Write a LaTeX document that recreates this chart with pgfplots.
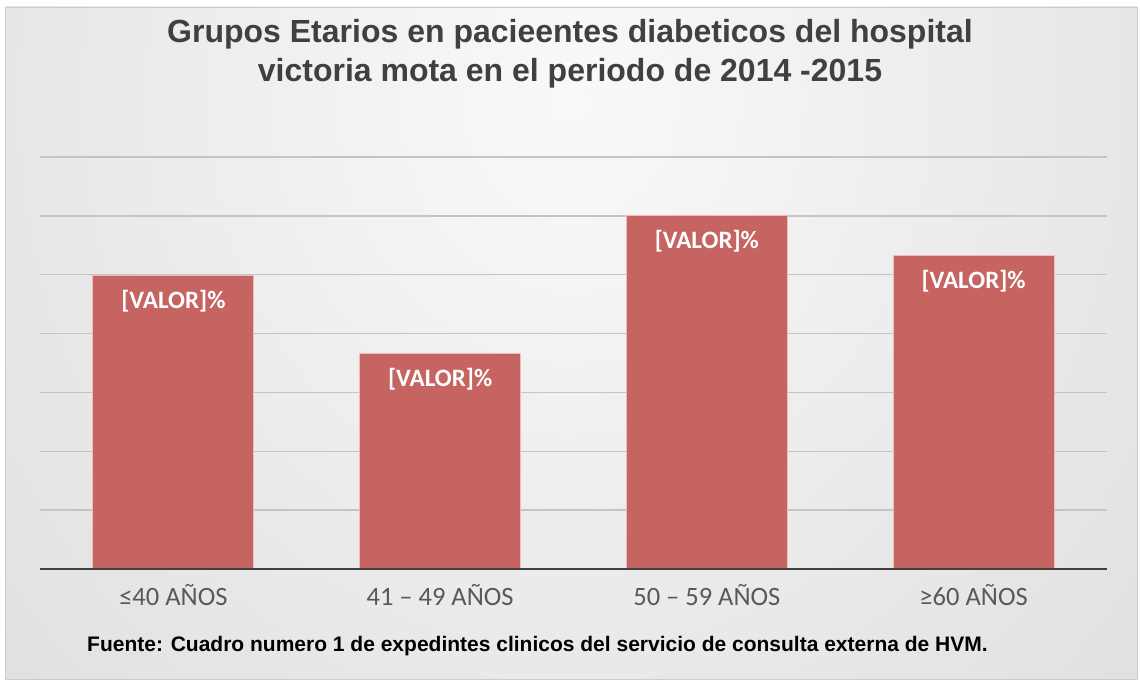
\documentclass[border=0pt]{standalone}
\usepackage{pgfplots}
\pgfplotsset{compat=1.18}
\usepackage{fontspec}
\setmainfont{Liberation Sans}
\newfontfamily\carlito{Carlito}

\definecolor{barred}{RGB}{198,100,98}
\definecolor{baredge}{RGB}{235,190,188}
\definecolor{bgin}{RGB}{249,249,249}
\definecolor{bgout}{RGB}{196,196,196}
\definecolor{gridgray}{RGB}{196,196,196}
\definecolor{axisgray}{RGB}{64,64,64}
\definecolor{titlegray}{RGB}{64,64,64}
\definecolor{ticklab}{RGB}{89,89,89}

\begin{document}
\begin{tikzpicture}[x=1pt,y=1pt]
\path[use as bounding box] (0,0) rectangle (1140,681);
\fill[white] (0,0) rectangle (1140,681);
\begin{scope}
\clip (5,2) rectangle (1137,674);
\shade[inner color=bgin, outer color=bgout] (-1092,-1290) rectangle (2232,2450);
\end{scope}
\draw[gray!40, line width=0.8pt] (5,2) rectangle (1137,674);

\begin{axis}[
    at={(40pt,112pt)}, anchor=south west,
    scale only axis,
    width=1067pt, height=412pt,
    xmin=-0.5, xmax=3.5,
    ymin=0, ymax=7,
    axis line style={draw=none},
    tick style={draw=none},
    ytick={1,2,3,4,5,6,7},
    yticklabels={},
    ymajorgrids,
    major grid style={gridgray, line width=1.3pt},
    xtick={0,1,2,3},
    xticklabels={≤40 AÑOS, 41 – 49 AÑOS, 50 – 59 AÑOS, ≥60 AÑOS},
    xticklabel style={font=\carlito\fontsize{26.5}{30}\selectfont, text=ticklab, yshift=-8pt},
    ybar, bar width=0.604,
    nodes near coords={{[}VALOR{]}\%},
    nodes near coords style={font=\carlito\bfseries\fontsize{25}{29}\selectfont, text=white, anchor=north, yshift=-11pt},
]
\addplot[fill=barred, draw=baredge, line width=1pt] coordinates {
    (0, 4.98)
    (1, 3.66)
    (2, 6.00)
    (3, 5.32)
};
\draw[axisgray, line width=3pt] (axis cs:-0.5,0) -- (axis cs:3.5,0);
\end{axis}

\node[anchor=base, text=titlegray, font=\bfseries\fontsize{32}{38}\selectfont] at (570,638) {Grupos Etarios en pacieentes diabeticos del hospital};
\node[anchor=base, text=titlegray, font=\bfseries\fontsize{32}{38}\selectfont] at (570,599) {victoria mota en el periodo de 2014 -2015};
\node[anchor=base west, inner sep=0pt, font=\bfseries\fontsize{21}{25}\selectfont] at (87,30) {Fuente: Cuadro numero 1 de expedintes clinicos del servicio de consulta externa de HVM.};
\end{tikzpicture}
\end{document}
